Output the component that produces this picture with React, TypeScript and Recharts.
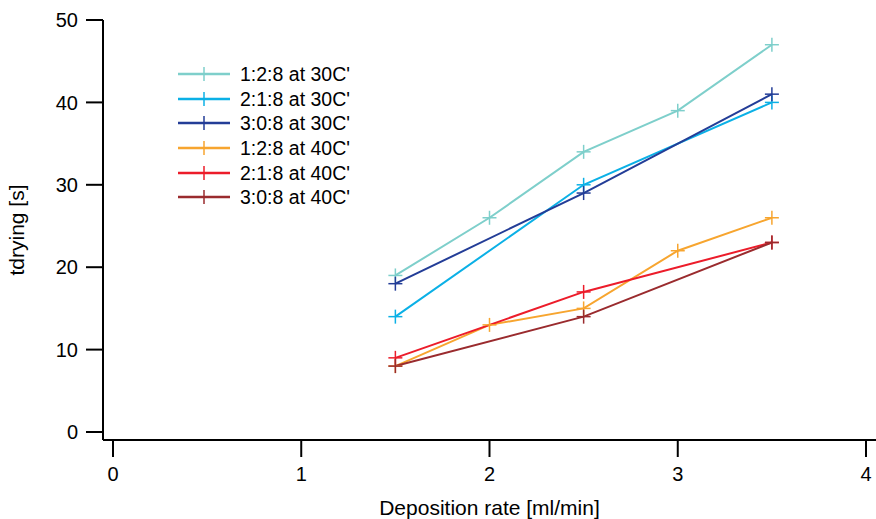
import React from "react";
import { LineChart, Line, XAxis, YAxis } from "recharts";

const xValues = [1.5, 2, 2.5, 3, 3.5];
const s1_30 = [19, 26, 34, 39, 47];
const s2_30 = [14, null, 30, null, 40];
const s3_30 = [18, null, 29, null, 41];
const s1_40 = [8, 13, 15, 22, 26];
const s2_40 = [9, null, 17, null, 23];
const s3_40 = [8, null, 14, null, 23];
const xTicks = [0, 1, 2, 3, 4];
const yTicks = [0, 10, 20, 30, 40, 50];

const seriesNames = [
  "1:2:8 at 30C'",
  "2:1:8 at 30C'",
  "3:0:8 at 30C'",
  "1:2:8 at 40C'",
  "2:1:8 at 40C'",
  "3:0:8 at 40C'",
];
const seriesValues = [s1_30, s2_30, s3_30, s1_40, s2_40, s3_40];
const colors = ["#7ecfcb", "#0bb0e6", "#233d97", "#f7a52f", "#ec1c2a", "#9a2b2e"];

const data = xValues.map((x, i) => {
  const row: any = { x };
  seriesValues.forEach((s, k) => {
    row["s" + k] = s[i];
  });
  return row;
});

const Cross = (props: any) => {
  const { cx, cy, stroke, value } = props;
  if (value === null || value === undefined || cx == null || cy == null) return null;
  const h = 7;
  return (
    <g>
      <line x1={cx - h} y1={cy} x2={cx + h} y2={cy} stroke={stroke} strokeWidth={1.5} />
      <line x1={cx} y1={cy - h} x2={cx} y2={cy + h} stroke={stroke} strokeWidth={1.5} />
    </g>
  );
};

const font = "Liberation Sans, Arial, sans-serif";
const tickFs = 20;
const labelFs = 21;
const legendFs = 19.5;

const LegendBox = () => (
  <div
    style={{
      position: "absolute",
      left: 178,
      top: 62,
      fontFamily: font,
      fontSize: legendFs,
    }}
  >
    {seriesNames.map((n, i) => (
      <div key={n} style={{ display: "flex", alignItems: "center", height: 24.6 }}>
        <svg width={62} height={20} style={{ flex: "none" }}>
          <line x1={0} y1={10} x2={52} y2={10} stroke={colors[i]} strokeWidth={2.5} />
          <line x1={26} y1={3} x2={26} y2={17} stroke={colors[i]} strokeWidth={1.5} />
        </svg>
        <span style={{ color: "#000", lineHeight: "20px", whiteSpace: "nowrap" }}>{n}</span>
      </div>
    ))}
  </div>
);

export default function App() {
  return (
    <div style={{ position: "absolute", left: 0, top: 0, width: 876, height: 519, background: "#fff", overflow: "hidden" }}>
      <LineChart
        width={876}
        height={519}
        data={data}
        margin={{ top: 20, right: 0, bottom: 0, left: 0 }}
      >
        <XAxis
          dataKey="x"
          type="number"
          domain={[-0.053, 4.053]}
          allowDataOverflow
          ticks={xTicks}
          stroke="#000"
          axisLine={{ stroke: "#000", strokeWidth: 2 }}
          tickLine={{ stroke: "#000", strokeWidth: 2 }}
          tickSize={17}
          tickMargin={10}
          height={79}
          tick={{ fill: "#000", fontSize: tickFs, fontFamily: font }}
          label={{
            value: "Deposition rate [ml/min]",
            position: "insideBottom",
            offset: 4,
            style: { fill: "#000", fontSize: labelFs, fontFamily: font },
          }}
        />
        <YAxis
          type="number"
          domain={[-0.97, 50]}
          allowDataOverflow
          ticks={yTicks}
          stroke="#000"
          axisLine={{ stroke: "#000", strokeWidth: 2 }}
          tickLine={{ stroke: "#000", strokeWidth: 2 }}
          tickSize={17}
          tickMargin={8}
          width={103}
          tick={{ fill: "#000", fontSize: tickFs, fontFamily: font }}
          label={{
            value: "tdrying [s]",
            angle: -90,
            position: "insideLeft",
            offset: 17,
            style: { fill: "#000", fontSize: labelFs, fontFamily: font, textAnchor: "middle" },
          }}
        />
        {seriesNames.map((n, i) => (
          <Line
            key={n}
            dataKey={"s" + i}
            name={n}
            stroke={colors[i]}
            strokeWidth={2}
            connectNulls
            isAnimationActive={false}
            dot={<Cross />}
            activeDot={false}
          />
        ))}
      </LineChart>
      <LegendBox />
    </div>
  );
}
